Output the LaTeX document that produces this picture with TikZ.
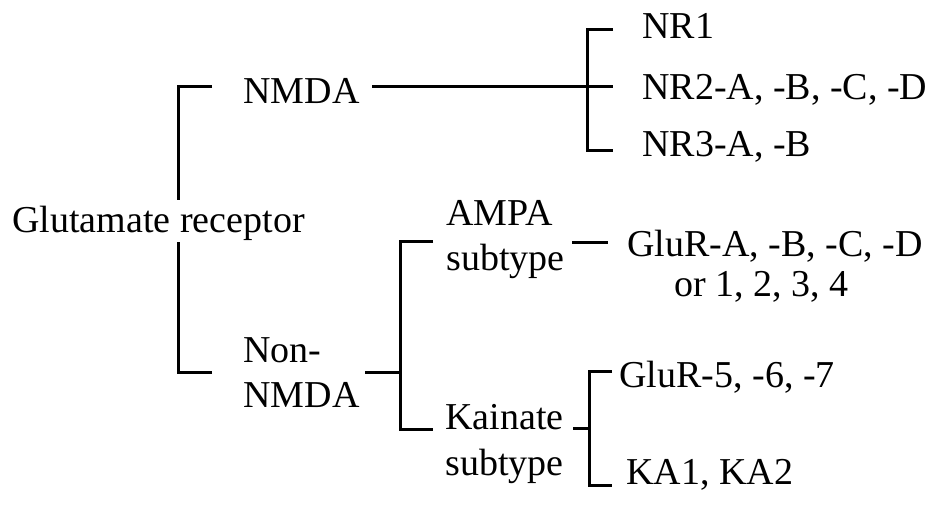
\documentclass[tikz,border=0pt]{standalone}
\usepackage{fontspec}
\setmainfont{Liberation Serif}
\begin{document}
\begin{tikzpicture}[x=0.5pt,y=-0.5pt,
  tree/.style={line width=1.5pt},
  lbl/.style={anchor=base west,inner sep=0pt,align=left,font=\fontsize{19}{22.5}\selectfont}]
  \useasboundingbox (0,0) rectangle (935,506);
  % receptor families (two-line labels sit on their last baseline)
  \node[lbl] (glu) at (12,233) {Glutamate receptor};
  \node[lbl] (nmda) at (243,104) {NMDA};
  \node[lbl] (non) at (243,408) {Non-\\NMDA};
  \node[lbl] (ampa) at (446,271) {AMPA\\subtype};
  \node[lbl] (kain) at (445,475) {Kainate\\subtype};
  % subunits
  \node[lbl] (nr1) at (642,39) {NR1};
  \node[lbl] (nr2) at (642,100) {NR2-A, -B, -C, -D};
  \node[lbl] (nr3) at (642,157) {NR3-A, -B};
  \node[lbl] (gluA) at (627,257) {GluR-A, -B, -C, -D};
  \node[lbl] (gluN) at (674,297) {or 1, 2, 3, 4};
  \node[lbl] (glu5) at (619,388) {GluR-5, -6, -7};
  \node[lbl] (ka) at (626,485) {KA1, KA2};
  % root bracket, split round the root label
  \coordinate (rtop) at (212,87);
  \coordinate (rbot) at (212,373);
  \draw[tree] (rtop) -| (178,200);
  \draw[tree] (rbot) -| (178,242);
  % NMDA -> NR subunits
  \coordinate (nmdaR) at (372,87);
  \coordinate (nrmid) at (613,87);
  \draw[tree] (nmdaR) -- (nrmid);
  \draw[tree] (613,30) -| (587,151) -- (613,151);
  % Non-NMDA -> AMPA / kainate
  \coordinate (nonR) at (365,373);
  \draw[tree] (nonR) -- (400,373);
  \draw[tree] (433,242) -| (400,430) -- (433,430);
  % AMPA -> GluR-A..D
  \coordinate (ampaR) at (572,243);
  \draw[tree] (ampaR) -- (608,243);
  % kainate -> GluR-5..7 / KA
  \coordinate (kainR) at (573,429);
  \draw[tree] (kainR) -- (589,429);
  \draw[tree] (612,372) -| (589,486) -- (612,486);
\end{tikzpicture}
\end{document}
